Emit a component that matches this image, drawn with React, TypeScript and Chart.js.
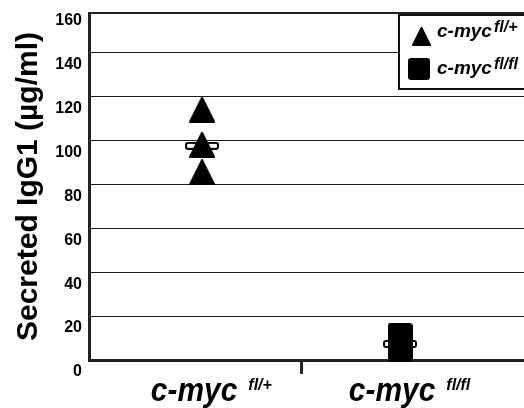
import React, { useEffect, useRef } from 'react';
import { Chart, registerables } from 'chart.js';
Chart.register(...registerables);

const FONT = '"Liberation Sans", Arial, Helvetica, sans-serif';

// Data
const categoryPositions = [1, 2];
const categoryNames = ['c-myc', 'c-myc'];
const categorySups = ['fl/+', 'fl/fl'];
const flPlusValues = [114, 98, 85.5];
const flFlValues = [11.1, 6.5, 4.8];
const meanValues = [97.5, 7.3];
const yTickValues = [0, 20, 40, 60, 80, 100, 120, 140, 160];
const yTitle = 'Secreted IgG1 (µg/ml)';
const legendNames = ['c-myc', 'c-myc'];
const legendSups = ['fl/+', 'fl/fl'];

function makeCanvas(w: number, h: number) {
  const c = document.createElement('canvas');
  c.width = w;
  c.height = h;
  return c;
}

function triangleImg(w: number, h: number) {
  const c = makeCanvas(w, h);
  const g = c.getContext('2d')!;
  g.fillStyle = '#000';
  g.strokeStyle = '#000';
  g.lineJoin = 'round';
  g.lineWidth = 2;
  g.beginPath();
  g.moveTo(w / 2, 1);
  g.lineTo(w - 1, h - 1);
  g.lineTo(1, h - 1);
  g.closePath();
  g.fill();
  g.stroke();
  return c;
}

function squareImg(s: number) {
  const c = makeCanvas(s, s);
  const g = c.getContext('2d')!;
  g.fillStyle = '#000';
  g.beginPath();
  (g as any).roundRect(0, 0, s, s, 3);
  g.fill();
  return c;
}

function meanImg(w: number, h: number) {
  const c = makeCanvas(w, h);
  const g = c.getContext('2d')!;
  g.fillStyle = '#fff';
  g.strokeStyle = '#000';
  g.lineWidth = 2;
  g.beginPath();
  (g as any).roundRect(1, 1, w - 2, h - 2, 2);
  g.fill();
  g.stroke();
  return c;
}

export default function App() {
  const ref = useRef<HTMLCanvasElement>(null);

  useEffect(() => {
    const tri = triangleImg(26, 26);
    const sq = squareImg(25);
    const mean = meanImg(34, 8);
    const legTri = triangleImg(19, 19);
    const legSq = squareImg(22);

    const overlay = {
      id: 'overlay',
      afterDraw(chart: any) {
        const ctx = chart.ctx;
        const area = chart.chartArea;
        const xs = chart.scales.x;
        ctx.save();
        // top frame line
        ctx.strokeStyle = '#222';
        ctx.lineWidth = 2;
        ctx.beginPath();
        ctx.moveTo(area.left, area.top);
        ctx.lineTo(area.right, area.top);
        ctx.stroke();

        // x category labels
        ctx.fillStyle = '#000';
        ctx.textBaseline = 'alphabetic';
        categoryPositions.forEach((v, i) => {
          const px = xs.getPixelForValue(v) - 8;
          ctx.font = `italic bold 34px ${FONT}`;
          const w = ctx.measureText(categoryNames[i]).width * 0.88;
          ctx.save();
          ctx.translate(px, area.bottom + 41);
          ctx.scale(0.88, 1);
          ctx.textAlign = 'center';
          ctx.fillText(categoryNames[i], 0, 0);
          ctx.restore();
          ctx.font = `italic bold 16px ${FONT}`;
          ctx.textAlign = 'left';
          ctx.fillText(categorySups[i], px + w / 2 + 11, area.bottom + 30);
        });

        // legend box
        const bx = area.right - 125;
        const by = area.top + 2;
        ctx.fillStyle = '#fff';
        ctx.fillRect(bx, by, 140, 74);
        ctx.strokeStyle = '#111';
        ctx.lineWidth = 2;
        ctx.strokeRect(bx, by, 140, 74);
        ctx.drawImage(legTri, bx + 13, by + 12);
        ctx.drawImage(legSq, bx + 9, by + 43);
        ctx.fillStyle = '#000';
        const rows = [by + 22, by + 59];
        legendNames.forEach((n, i) => {
          ctx.font = `italic bold 19px ${FONT}`;
          ctx.textAlign = 'left';
          ctx.fillText(n, bx + 38, rows[i]);
          const w = ctx.measureText(n).width;
          ctx.font = `italic bold 16px ${FONT}`;
          ctx.fillText(legendSups[i], bx + 38 + w + 2, rows[i] - 5);
        });
        ctx.restore();
      },
    };

    const chart = new Chart(ref.current!, {
      type: 'scatter',
      data: {
        datasets: [
          {
            label: legendSups[0],
            data: flPlusValues.map((y) => ({ x: categoryPositions[0], y })),
            pointStyle: tri as any,
            order: 0,
            clip: false as any,
          },
          {
            label: legendSups[1],
            data: flFlValues.map((y) => ({ x: categoryPositions[1], y })),
            pointStyle: sq as any,
            order: 1,
            clip: false as any,
          },
          {
            label: 'mean',
            data: meanValues.map((y, i) => ({ x: categoryPositions[i], y })),
            pointStyle: mean as any,
            order: 2,
            clip: false as any,
          },
        ],
      },
      options: {
        animation: false,
        responsive: false,
        layout: { autoPadding: false, padding: { top: 13, right: 0, left: 0, bottom: 0 } },
        plugins: { legend: { display: false }, tooltip: { enabled: false } },
        scales: {
          x: {
            type: 'linear',
            min: 0.429,
            max: 2.626,
            afterBuildTicks: (s: any) => {
              s.ticks = [{ value: 1.5 }];
            },
            afterFit: (s: any) => {
              s.height = 48;
              s.paddingLeft = 0;
              s.paddingRight = 0;
            },
            grid: {
              drawOnChartArea: false,
              drawTicks: true,
              tickLength: 14,
              tickWidth: 3,
              tickColor: '#222',
            },
            border: { width: 3, color: '#222' },
            ticks: { callback: () => '', autoSkip: false },
          },
          y: {
            min: 0,
            max: 158,
            afterBuildTicks: (s: any) => {
              s.ticks = yTickValues.map((value) => ({ value }));
            },
            afterFit: (s: any) => {
              s.width = 89;
              s.paddingTop = 0;
              s.paddingBottom = 0;
            },
            ticks: {
              autoSkip: false,
              padding: 7,
              labelOffset: 12,
              color: '#000',
              font: { family: FONT, size: 16, weight: 'bold' },
              callback: (v: any) => String(v),
            },
            grid: {
              drawTicks: false,
              lineWidth: 1,
              color: (c: any) =>
                c.tick && (c.tick.value === 0 || c.tick.value === 160) ? 'rgba(0,0,0,0)' : '#1a1a1a',
            },
            border: { width: 3, color: '#222' },
            title: {
              display: true,
              text: yTitle,
              color: '#000',
              font: { family: FONT, size: 30, weight: 'bold' },
              padding: { top: 11, bottom: 0 },
            },
          },
        },
      },
      plugins: [overlay],
    } as any);
    return () => chart.destroy();
  }, []);

  return (
    <div style={{ position: 'fixed', left: 0, top: 0, width: 524, height: 408, background: '#fff' }}>
      <canvas ref={ref} width={524} height={408} style={{ display: 'block' }} />
    </div>
  );
}
